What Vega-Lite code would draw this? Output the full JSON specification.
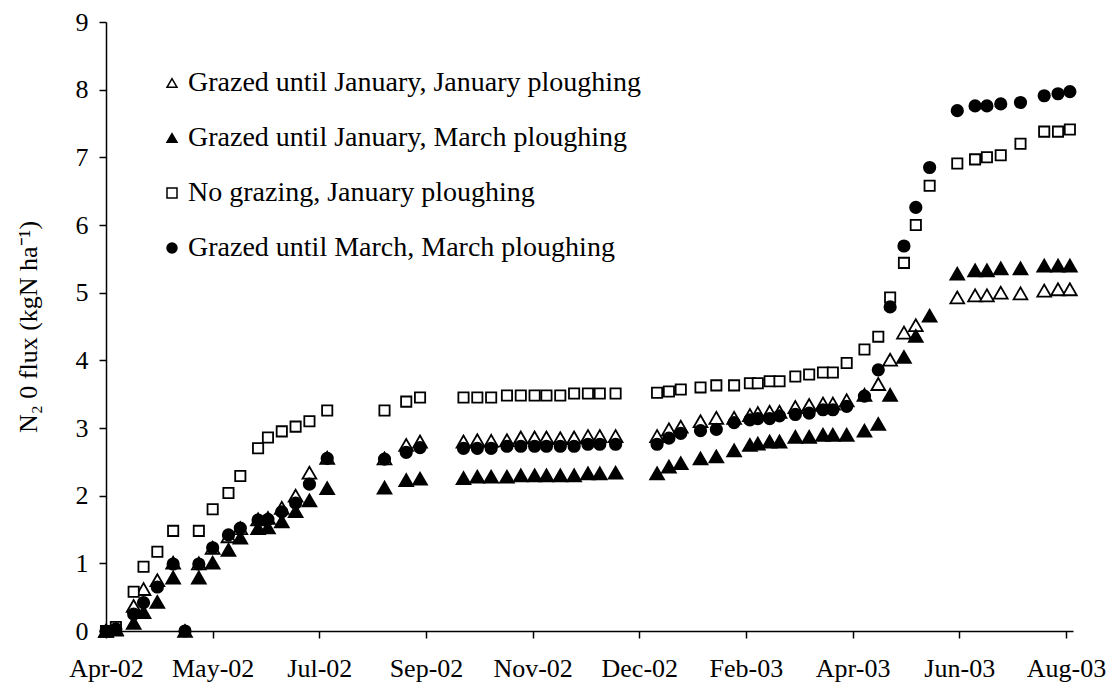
{
  "$schema": "https://vega.github.io/schema/vega-lite/v6.json",
  "width": 967,
  "height": 609,
  "autosize": {"type": "none"},
  "padding": {"left": 106, "top": 22, "right": 34, "bottom": 55},
  "background": "white",
  "config": {
    "view": {"stroke": null},
    "font": "Liberation Serif",
    "axis": {
      "labelFont": "Liberation Serif",
      "labelFontSize": 26,
      "labelColor": "black",
      "titleFont": "Liberation Serif",
      "titleFontSize": 26,
      "titleFontWeight": "normal",
      "titleColor": "black",
      "domainColor": "black",
      "domainWidth": 1.5,
      "tickColor": "black",
      "tickWidth": 1.5,
      "tickSize": 7,
      "grid": false,
      "labelFlush": false,
      "labelOverlap": false,
      "labelBound": false
    },
    "legend": {
      "labelFont": "Liberation Serif",
      "labelFontSize": 28,
      "labelColor": "black",
      "labelLimit": 1000,
      "labelOffset": 2,
      "rowPadding": 27,
      "symbolSize": 100,
      "symbolStrokeWidth": 1.5,
      "symbolStrokeColor": "black"
    }
  },
  "data": {
    "values": [
      {"date": "2002-04-03T00:00", "Grazed until January, January ploughing": 0, "Grazed until January, March ploughing": 0, "No grazing, January ploughing": 0, "Grazed until March, March ploughing": 0},
      {"date": "2002-04-08T00:00", "Grazed until January, January ploughing": 0.03, "Grazed until January, March ploughing": 0.02, "No grazing, January ploughing": 0.06, "Grazed until March, March ploughing": 0.03},
      {"date": "2002-04-17T00:00", "Grazed until January, January ploughing": 0.37, "Grazed until January, March ploughing": 0.12, "No grazing, January ploughing": 0.58, "Grazed until March, March ploughing": 0.25},
      {"date": "2002-04-22T00:00", "Grazed until January, January ploughing": 0.62, "Grazed until January, March ploughing": 0.28, "No grazing, January ploughing": 0.95, "Grazed until March, March ploughing": 0.42},
      {"date": "2002-04-29T00:00", "Grazed until January, January ploughing": 0.75, "Grazed until January, March ploughing": 0.43, "No grazing, January ploughing": 1.17, "Grazed until March, March ploughing": 0.65},
      {"date": "2002-05-07T00:00", "Grazed until January, January ploughing": 1.01, "Grazed until January, March ploughing": 0.79, "No grazing, January ploughing": 1.48, "Grazed until March, March ploughing": 0.99},
      {"date": "2002-05-13T00:00", "Grazed until January, January ploughing": null, "Grazed until January, March ploughing": 0, "No grazing, January ploughing": null, "Grazed until March, March ploughing": 0},
      {"date": "2002-05-20T00:00", "Grazed until January, January ploughing": 1.0, "Grazed until January, March ploughing": 0.79, "No grazing, January ploughing": 1.48, "Grazed until March, March ploughing": 0.99},
      {"date": "2002-05-27T00:00", "Grazed until January, January ploughing": 1.23, "Grazed until January, March ploughing": 1.01, "No grazing, January ploughing": 1.8, "Grazed until March, March ploughing": 1.23},
      {"date": "2002-06-04T00:00", "Grazed until January, January ploughing": 1.4, "Grazed until January, March ploughing": 1.2, "No grazing, January ploughing": 2.04, "Grazed until March, March ploughing": 1.42},
      {"date": "2002-06-10T00:00", "Grazed until January, January ploughing": 1.52, "Grazed until January, March ploughing": 1.38, "No grazing, January ploughing": 2.29, "Grazed until March, March ploughing": 1.52},
      {"date": "2002-06-19T00:00", "Grazed until January, January ploughing": 1.65, "Grazed until January, March ploughing": 1.52, "No grazing, January ploughing": 2.7, "Grazed until March, March ploughing": 1.64},
      {"date": "2002-06-24T00:00", "Grazed until January, January ploughing": 1.67, "Grazed until January, March ploughing": 1.53, "No grazing, January ploughing": 2.86, "Grazed until March, March ploughing": 1.65},
      {"date": "2002-07-01T00:00", "Grazed until January, January ploughing": 1.82, "Grazed until January, March ploughing": 1.62, "No grazing, January ploughing": 2.95, "Grazed until March, March ploughing": 1.76},
      {"date": "2002-07-08T00:00", "Grazed until January, January ploughing": 2.0, "Grazed until January, March ploughing": 1.77, "No grazing, January ploughing": 3.02, "Grazed until March, March ploughing": 1.89},
      {"date": "2002-07-15T00:00", "Grazed until January, January ploughing": 2.34, "Grazed until January, March ploughing": 1.93, "No grazing, January ploughing": 3.1, "Grazed until March, March ploughing": 2.17},
      {"date": "2002-07-24T00:00", "Grazed until January, January ploughing": 2.56, "Grazed until January, March ploughing": 2.11, "No grazing, January ploughing": 3.26, "Grazed until March, March ploughing": 2.55},
      {"date": "2002-08-22T00:00", "Grazed until January, January ploughing": 2.55, "Grazed until January, March ploughing": 2.12, "No grazing, January ploughing": 3.26, "Grazed until March, March ploughing": 2.54},
      {"date": "2002-09-02T00:00", "Grazed until January, January ploughing": 2.75, "Grazed until January, March ploughing": 2.23, "No grazing, January ploughing": 3.39, "Grazed until March, March ploughing": 2.64},
      {"date": "2002-09-09T00:00", "Grazed until January, January ploughing": 2.8, "Grazed until January, March ploughing": 2.25, "No grazing, January ploughing": 3.45, "Grazed until March, March ploughing": 2.71},
      {"date": "2002-10-01T00:00", "Grazed until January, January ploughing": 2.8, "Grazed until January, March ploughing": 2.26, "No grazing, January ploughing": 3.45, "Grazed until March, March ploughing": 2.7},
      {"date": "2002-10-08T00:00", "Grazed until January, January ploughing": 2.82, "Grazed until January, March ploughing": 2.28, "No grazing, January ploughing": 3.45, "Grazed until March, March ploughing": 2.7},
      {"date": "2002-10-15T00:00", "Grazed until January, January ploughing": 2.81, "Grazed until January, March ploughing": 2.28, "No grazing, January ploughing": 3.45, "Grazed until March, March ploughing": 2.7},
      {"date": "2002-10-23T00:00", "Grazed until January, January ploughing": 2.82, "Grazed until January, March ploughing": 2.28, "No grazing, January ploughing": 3.48, "Grazed until March, March ploughing": 2.73},
      {"date": "2002-10-30T00:00", "Grazed until January, January ploughing": 2.86, "Grazed until January, March ploughing": 2.3, "No grazing, January ploughing": 3.48, "Grazed until March, March ploughing": 2.73},
      {"date": "2002-11-06T00:00", "Grazed until January, January ploughing": 2.86, "Grazed until January, March ploughing": 2.3, "No grazing, January ploughing": 3.48, "Grazed until March, March ploughing": 2.73},
      {"date": "2002-11-12T00:00", "Grazed until January, January ploughing": 2.86, "Grazed until January, March ploughing": 2.3, "No grazing, January ploughing": 3.48, "Grazed until March, March ploughing": 2.73},
      {"date": "2002-11-19T00:00", "Grazed until January, January ploughing": 2.85, "Grazed until January, March ploughing": 2.3, "No grazing, January ploughing": 3.48, "Grazed until March, March ploughing": 2.73},
      {"date": "2002-11-26T00:00", "Grazed until January, January ploughing": 2.86, "Grazed until January, March ploughing": 2.3, "No grazing, January ploughing": 3.51, "Grazed until March, March ploughing": 2.73},
      {"date": "2002-12-03T00:00", "Grazed until January, January ploughing": 2.88, "Grazed until January, March ploughing": 2.33, "No grazing, January ploughing": 3.51, "Grazed until March, March ploughing": 2.76},
      {"date": "2002-12-09T00:00", "Grazed until January, January ploughing": 2.88, "Grazed until January, March ploughing": 2.33, "No grazing, January ploughing": 3.51, "Grazed until March, March ploughing": 2.76},
      {"date": "2002-12-17T00:00", "Grazed until January, January ploughing": 2.88, "Grazed until January, March ploughing": 2.34, "No grazing, January ploughing": 3.51, "Grazed until March, March ploughing": 2.76},
      {"date": "2003-01-07T00:00", "Grazed until January, January ploughing": 2.88, "Grazed until January, March ploughing": 2.33, "No grazing, January ploughing": 3.52, "Grazed until March, March ploughing": 2.76},
      {"date": "2003-01-13T00:00", "Grazed until January, January ploughing": 2.98, "Grazed until January, March ploughing": 2.43, "No grazing, January ploughing": 3.54, "Grazed until March, March ploughing": 2.85},
      {"date": "2003-01-19T00:00", "Grazed until January, January ploughing": 3.02, "Grazed until January, March ploughing": 2.48, "No grazing, January ploughing": 3.57, "Grazed until March, March ploughing": 2.92},
      {"date": "2003-01-29T00:00", "Grazed until January, January ploughing": 3.1, "Grazed until January, March ploughing": 2.55, "No grazing, January ploughing": 3.6, "Grazed until March, March ploughing": 2.96},
      {"date": "2003-02-06T00:00", "Grazed until January, January ploughing": 3.15, "Grazed until January, March ploughing": 2.58, "No grazing, January ploughing": 3.63, "Grazed until March, March ploughing": 2.98},
      {"date": "2003-02-15T00:00", "Grazed until January, January ploughing": 3.15, "Grazed until January, March ploughing": 2.67, "No grazing, January ploughing": 3.63, "Grazed until March, March ploughing": 3.08},
      {"date": "2003-02-23T00:00", "Grazed until January, January ploughing": 3.19, "Grazed until January, March ploughing": 2.75, "No grazing, January ploughing": 3.66, "Grazed until March, March ploughing": 3.12},
      {"date": "2003-02-27T00:00", "Grazed until January, January ploughing": 3.22, "Grazed until January, March ploughing": 2.77, "No grazing, January ploughing": 3.66, "Grazed until March, March ploughing": 3.14},
      {"date": "2003-03-05T00:00", "Grazed until January, January ploughing": 3.24, "Grazed until January, March ploughing": 2.8, "No grazing, January ploughing": 3.69, "Grazed until March, March ploughing": 3.14},
      {"date": "2003-03-10T00:00", "Grazed until January, January ploughing": 3.24, "Grazed until January, March ploughing": 2.8, "No grazing, January ploughing": 3.69, "Grazed until March, March ploughing": 3.18},
      {"date": "2003-03-18T00:00", "Grazed until January, January ploughing": 3.31, "Grazed until January, March ploughing": 2.87, "No grazing, January ploughing": 3.76, "Grazed until March, March ploughing": 3.2},
      {"date": "2003-03-25T00:00", "Grazed until January, January ploughing": 3.34, "Grazed until January, March ploughing": 2.87, "No grazing, January ploughing": 3.79, "Grazed until March, March ploughing": 3.22},
      {"date": "2003-04-01T00:00", "Grazed until January, January ploughing": 3.36, "Grazed until January, March ploughing": 2.9, "No grazing, January ploughing": 3.82, "Grazed until March, March ploughing": 3.27},
      {"date": "2003-04-06T00:00", "Grazed until January, January ploughing": 3.36, "Grazed until January, March ploughing": 2.9, "No grazing, January ploughing": 3.82, "Grazed until March, March ploughing": 3.27},
      {"date": "2003-04-13T00:00", "Grazed until January, January ploughing": 3.41, "Grazed until January, March ploughing": 2.9, "No grazing, January ploughing": 3.96, "Grazed until March, March ploughing": 3.32},
      {"date": "2003-04-22T00:00", "Grazed until January, January ploughing": 3.49, "Grazed until January, March ploughing": 2.96, "No grazing, January ploughing": 4.16, "Grazed until March, March ploughing": 3.47},
      {"date": "2003-04-29T00:00", "Grazed until January, January ploughing": 3.65, "Grazed until January, March ploughing": 3.06, "No grazing, January ploughing": 4.35, "Grazed until March, March ploughing": 3.86},
      {"date": "2003-05-05T00:00", "Grazed until January, January ploughing": 4.01, "Grazed until January, March ploughing": 3.49, "No grazing, January ploughing": 4.93, "Grazed until March, March ploughing": 4.79},
      {"date": "2003-05-12T00:00", "Grazed until January, January ploughing": 4.41, "Grazed until January, March ploughing": 4.05, "No grazing, January ploughing": 5.44, "Grazed until March, March ploughing": 5.69},
      {"date": "2003-05-18T00:00", "Grazed until January, January ploughing": 4.52, "Grazed until January, March ploughing": 4.36, "No grazing, January ploughing": 6.0, "Grazed until March, March ploughing": 6.26},
      {"date": "2003-05-25T00:00", "Grazed until January, January ploughing": null, "Grazed until January, March ploughing": 4.66, "No grazing, January ploughing": 6.58, "Grazed until March, March ploughing": 6.85},
      {"date": "2003-06-08T00:00", "Grazed until January, January ploughing": 4.93, "Grazed until January, March ploughing": 5.28, "No grazing, January ploughing": 6.91, "Grazed until March, March ploughing": 7.69},
      {"date": "2003-06-17T00:00", "Grazed until January, January ploughing": 4.96, "Grazed until January, March ploughing": 5.33, "No grazing, January ploughing": 6.97, "Grazed until March, March ploughing": 7.76},
      {"date": "2003-06-23T00:00", "Grazed until January, January ploughing": 4.96, "Grazed until January, March ploughing": 5.33, "No grazing, January ploughing": 7.0, "Grazed until March, March ploughing": 7.76},
      {"date": "2003-06-30T00:00", "Grazed until January, January ploughing": 5.0, "Grazed until January, March ploughing": 5.36, "No grazing, January ploughing": 7.03, "Grazed until March, March ploughing": 7.79},
      {"date": "2003-07-10T00:00", "Grazed until January, January ploughing": 4.99, "Grazed until January, March ploughing": 5.36, "No grazing, January ploughing": 7.2, "Grazed until March, March ploughing": 7.81},
      {"date": "2003-07-22T00:00", "Grazed until January, January ploughing": 5.03, "Grazed until January, March ploughing": 5.4, "No grazing, January ploughing": 7.38, "Grazed until March, March ploughing": 7.91},
      {"date": "2003-07-29T00:00", "Grazed until January, January ploughing": 5.05, "Grazed until January, March ploughing": 5.4, "No grazing, January ploughing": 7.38, "Grazed until March, March ploughing": 7.94},
      {"date": "2003-08-04T00:00", "Grazed until January, January ploughing": 5.05, "Grazed until January, March ploughing": 5.4, "No grazing, January ploughing": 7.41, "Grazed until March, March ploughing": 7.97}
    ]
  },
  "transform": [
    {"fold": ["Grazed until January, January ploughing", "Grazed until January, March ploughing", "No grazing, January ploughing", "Grazed until March, March ploughing"], "as": ["series", "flux"]}
  ],
  "encoding": {
    "x": {
      "field": "date",
      "type": "temporal",
      "scale": {"domain": [{"year": 2002, "month": 4, "date": 3}, {"year": 2003, "month": 8, "date": 5, "hours": 14}]},
      "axis": {
        "title": null,
        "format": "%b-%y",
        "labelPadding": 17,
        "values": [
          {"year": 2002, "month": 4, "date": 3},
          {"year": 2002, "month": 5, "date": 27},
          {"year": 2002, "month": 7, "date": 20},
          {"year": 2002, "month": 9, "date": 12},
          {"year": 2002, "month": 11, "date": 5},
          {"year": 2002, "month": 12, "date": 29},
          {"year": 2003, "month": 2, "date": 21},
          {"year": 2003, "month": 4, "date": 16},
          {"year": 2003, "month": 6, "date": 9},
          {"year": 2003, "month": 8, "date": 2}
        ]
      }
    },
    "y": {
      "field": "flux",
      "type": "quantitative",
      "scale": {"domain": [0, 9], "nice": false},
      "axis": {
        "title": "N₂ 0 flux (kgN ha⁻¹)",
        "values": [0, 1, 2, 3, 4, 5, 6, 7, 8, 9],
        "labelPadding": 11,
        "titlePadding": 34
      }
    },
    "shape": {
      "field": "series",
      "type": "nominal",
      "scale": {
        "domain": ["Grazed until January, January ploughing", "Grazed until January, March ploughing", "No grazing, January ploughing", "Grazed until March, March ploughing"],
        "range": ["triangle-up", "triangle-up", "square", "circle"]
      },
      "legend": {"title": null, "orient": "none", "legendX": 52, "legendY": 47, "symbolStrokeColor": "black", "symbolStrokeWidth": 1.5}
    },
    "fill": {
      "field": "series",
      "type": "nominal",
      "scale": {
        "domain": ["Grazed until January, January ploughing", "Grazed until January, March ploughing", "No grazing, January ploughing", "Grazed until March, March ploughing"],
        "range": ["white", "black", "white", "black"]
      },
      "legend": {"title": null, "orient": "none", "legendX": 52, "legendY": 47, "symbolStrokeColor": "black", "symbolStrokeWidth": 1.5}
    },
    "stroke": {
      "field": "series",
      "type": "nominal",
      "scale": {
        "domain": ["Grazed until January, January ploughing", "Grazed until January, March ploughing", "No grazing, January ploughing", "Grazed until March, March ploughing"],
        "range": ["black", "black", "black", "black"]
      },
      "legend": {"title": null, "orient": "none", "legendX": 52, "legendY": 47, "symbolStrokeColor": "black", "symbolStrokeWidth": 1.5}
    }
  },
  "layer": [
    {
      "transform": [{"filter": {"field": "series", "oneOf": ["Grazed until January, January ploughing", "Grazed until January, March ploughing"]}}],
      "mark": {"type": "point", "filled": true, "opacity": 1, "strokeWidth": 1.8, "size": 190}
    },
    {
      "transform": [{"filter": {"field": "series", "equal": "No grazing, January ploughing"}}],
      "mark": {"type": "point", "filled": true, "opacity": 1, "strokeWidth": 1.8, "size": 105}
    },
    {
      "transform": [{"filter": {"field": "series", "equal": "Grazed until March, March ploughing"}}],
      "mark": {"type": "point", "filled": true, "opacity": 1, "strokeWidth": 1.8, "size": 130}
    }
  ]
}
